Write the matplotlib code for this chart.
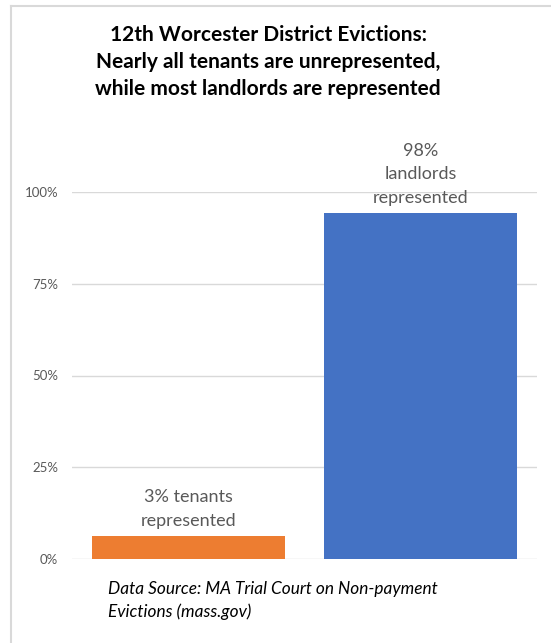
import matplotlib
matplotlib.use("Agg")
import matplotlib.pyplot as plt
from matplotlib.lines import Line2D
from matplotlib.ticker import PercentFormatter

plt.rcParams["font.family"] = ["Lato", "DejaVu Sans"]

# data
categories = ["Tenants", "Landlords"]
values = [6.3, 94.3]          # bar heights as drawn (%)
bar_labels = ["3% tenants\nrepresented", "98%\nlandlords\nrepresented"]
bar_colors = ["#ED7D31", "#4472C4"]
y_ticks = [0, 25, 50, 75, 100]

title = ("12th Worcester District Evictions:\n"
         "Nearly all tenants are unrepresented,\n"
         "while most landlords are represented")
source = "Data Source: MA Trial Court on Non-payment\nEvictions (mass.gov)"

W, H = 551, 643
fig = plt.figure(figsize=(W / 100, H / 100), dpi=100)
ax = fig.add_axes([72 / W, 1 - 559 / H, 465 / W, 367 / H])

x = list(range(len(categories)))
ax.bar(x, values, width=0.83, color=bar_colors, zorder=3)
ax.set_xlim(-0.5, 1.5)
ax.set_ylim(0, 100)
ax.set_yticks(y_ticks)
ax.yaxis.set_major_formatter(PercentFormatter(decimals=0))
ax.set_xticks([])
ax.tick_params(axis="y", length=0, pad=10, labelsize=9.5, labelcolor="#595959")
ax.grid(axis="y", color="#D9D9D9", linewidth=1, zorder=0)
for s in ax.spines.values():
    s.set_visible(False)

for xi, v, lab in zip(x, values, bar_labels):
    ax.annotate(lab, xy=(xi, v), xytext=(0, 5), textcoords="offset points",
                ha="center", va="bottom", fontsize=13, color="#595959",
                linespacing=1.58, annotation_clip=False)

fig.text(268 / W, 1 - 25 / H, title, ha="center", va="top", fontsize=15,
         fontweight="bold", linespacing=1.45, color="black")
fig.text(108 / W, 1 - 581 / H, source, ha="left", va="top", fontsize=12.4,
         style="italic", linespacing=1.5, color="#000000")

# light frame around the chart (top and left edges visible)
fig.add_artist(Line2D([11 / W, 1.0], [1 - 6 / H, 1 - 6 / H],
                      transform=fig.transFigure, color="#D9D9D9", linewidth=1.5))
fig.add_artist(Line2D([11 / W, 11 / W], [0, 1 - 6 / H],
                      transform=fig.transFigure, color="#D9D9D9", linewidth=1.5))

fig.savefig("out.png", dpi=100)
